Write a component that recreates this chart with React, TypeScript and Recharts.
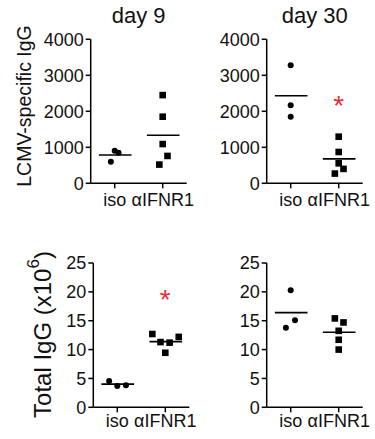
import { ScatterChart, Scatter, XAxis, YAxis, ReferenceLine } from 'recharts';

const groups = ['iso', 'αIFNR1'];
const titles = ['day 9', 'day 30'];

// LCMV-specific IgG
const lcmvTicks = [0, 1000, 2000, 3000, 4000];
const d9LcmvIso = [905, 850, 600];
const d9LcmvAnti = [2450, 1850, 1090, 760, 520];
const d30LcmvIso = [3280, 2170, 1850];
const d30LcmvAnti = [1295, 870, 555, 400, 270];

// Total IgG (x10^6)
const totalTicks = [0, 5, 10, 15, 20, 25];
const d9TotalIso = [4.55, 3.7, 3.8];
const d9TotalAnti = [12.7, 11.3, 11.2, 12.2, 9.45];
const d30TotalIso = [20.3, 15.1, 13.8];
const d30TotalAnti = [15.4, 14.7, 13.25, 11.7, 10.0];

// sideways scatter of the dots, in group widths
const d9LcmvIsoJit = [0, 0.08, -0.08];
const d9LcmvAntiJit = [0, 0, 0, 0.1, -0.07];
const d30LcmvIsoJit = [0, 0, 0];
const d30LcmvAntiJit = [0, 0, 0, 0.1, -0.08];
const d9TotalIsoJit = [-0.17, 0, 0.18];
const d9TotalAntiJit = [-0.27, -0.1, 0.09, 0.28, 0];
const d30TotalIsoJit = [0, 0.09, -0.1];
const d30TotalAntiJit = [-0.08, 0.1, 0, 0, 0];

// significance stars (y value where the * sits)
const d30LcmvStar = 2350;
const d9TotalStar = 19.8;

const FONT = '"Liberation Sans", Arial, sans-serif';
const INK = '#111';
const RED = '#ec2d35';
const YW = 60;
const XH = 30;

const mean = (a: number[]) => a.reduce((s, v) => s + v, 0) / a.length;

const Dot = (p: any) => <circle cx={p.cx} cy={p.cy} r={3} fill="#000" />;
const Square = (p: any) => <rect x={p.cx - 3.3} y={p.cy - 3.3} width={6.6} height={6.6} fill="#000" />;
const Star = (p: any) => (
  <text x={p.cx} y={p.cy + 16} textAnchor="middle" fontSize={28} fill={RED} fontFamily={FONT}>*</text>
);

type PanelProps = {
  left: number;
  top: number;
  width: number;
  height: number;
  plotLeft: number;
  plotTop: number;
  plotHeight: number;
  iso: number[];
  isoJit: number[];
  anti: number[];
  antiJit: number[];
  ticks: number[];
  star?: number;
  tickGap: number;
};

const Panel = ({ left, top, width, height, plotLeft, plotTop, plotHeight, iso, isoJit, anti, antiJit, ticks, star, tickGap }: PanelProps) => {
  const isoData = iso.map((v, i) => ({ x: 0.5 + isoJit[i], y: v }));
  const antiData = anti.map((v, i) => ({ x: 1.5 + antiJit[i], y: v }));
  const mIso = mean(iso);
  const mAnti = mean(anti);
  const tickStyle = { fill: INK, fontSize: 18, fontFamily: FONT };
  return (
    <div style={{ position: 'absolute', left, top }}>
      <ScatterChart
        width={width}
        height={height}
        margin={{
          left: plotLeft - YW,
          top: plotTop,
          right: width - plotLeft - 96,
          bottom: height - plotTop - plotHeight - XH,
        }}
      >
        <XAxis
          type="number"
          dataKey="x"
          domain={[0, 2]}
          ticks={[0.5, 1.5]}
          tickFormatter={(v: number) => groups[Math.floor(v)]}
          height={XH}
          stroke="#000"
          strokeWidth={1.5}
          tickSize={5}
          tickMargin={tickGap}
          tick={tickStyle}
          interval={0}
        />
        <YAxis
          type="number"
          dataKey="y"
          domain={[0, ticks[ticks.length - 1]]}
          ticks={ticks}
          width={YW}
          stroke="#000"
          strokeWidth={1.5}
          tickSize={5}
          tick={tickStyle}
          interval={0}
        />
        <ReferenceLine segment={[{ x: 0.17, y: mIso }, { x: 0.85, y: mIso }]} stroke="#000" strokeWidth={1.6} />
        <ReferenceLine segment={[{ x: 1.17, y: mAnti }, { x: 1.85, y: mAnti }]} stroke="#000" strokeWidth={1.6} />
        <Scatter data={isoData} shape={Dot} isAnimationActive={false} />
        <Scatter data={antiData} shape={Square} isAnimationActive={false} />
        {star !== undefined && (
          <Scatter data={[{ x: 1.5, y: star }]} shape={Star} isAnimationActive={false} />
        )}
      </ScatterChart>
    </div>
  );
};

export default function App() {
  return (
    <div style={{ position: 'absolute', left: 0, top: 0, width: 375, height: 439, background: '#fff', fontFamily: FONT }}>
      <Panel left={0} top={0} width={205} height={215} plotLeft={90.7} plotTop={39.3} plotHeight={144}
        iso={d9LcmvIso} isoJit={d9LcmvIsoJit} anti={d9LcmvAnti} antiJit={d9LcmvAntiJit} ticks={lcmvTicks} tickGap={5} />
      <Panel left={190} top={0} width={185} height={215} plotLeft={76.7} plotTop={39.3} plotHeight={144}
        iso={d30LcmvIso} isoJit={d30LcmvIsoJit} anti={d30LcmvAnti} antiJit={d30LcmvAntiJit} ticks={lcmvTicks} star={d30LcmvStar} tickGap={5} />
      <Panel left={0} top={220} width={205} height={219} plotLeft={93.3} plotTop={43} plotHeight={144.3}
        iso={d9TotalIso} isoJit={d9TotalIsoJit} anti={d9TotalAnti} antiJit={d9TotalAntiJit} ticks={totalTicks} star={d9TotalStar} tickGap={2} />
      <Panel left={190} top={220} width={185} height={219} plotLeft={76.7} plotTop={43} plotHeight={144.3}
        iso={d30TotalIso} isoJit={d30TotalIsoJit} anti={d30TotalAnti} antiJit={d30TotalAntiJit} ticks={totalTicks} tickGap={2} />
      <svg width={375} height={439} style={{ position: 'absolute', left: 0, top: 0, pointerEvents: 'none' }}>
        <text x={138.7} y={22.7} textAnchor="middle" fontSize={22} fill={INK} fontFamily={FONT}>{titles[0]}</text>
        <text x={314.7} y={22.7} textAnchor="middle" fontSize={22} fill={INK} fontFamily={FONT}>{titles[1]}</text>
        <text transform="translate(31,106) rotate(-90)" textAnchor="middle" fontSize={19.5} fill={INK} fontFamily={FONT}>
          LCMV-specific IgG
        </text>
        <text transform="translate(51,334.5) rotate(-90)" textAnchor="middle" fontSize={24} fill={INK} fontFamily={FONT}>
          Total IgG (x10<tspan fontSize={17} dy={-12}>6</tspan><tspan dy={12}>)</tspan>
        </text>
      </svg>
    </div>
  );
}
